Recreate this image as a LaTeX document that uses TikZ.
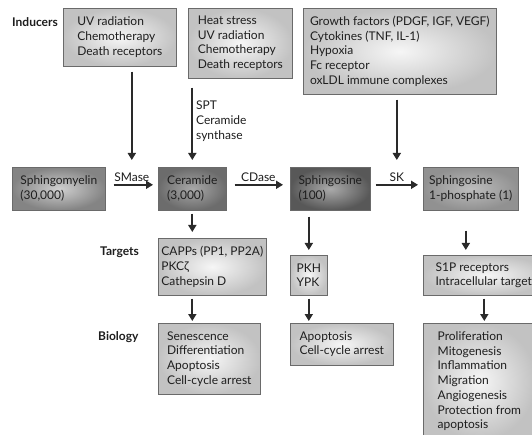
\documentclass[tikz,border=0pt]{standalone}
\usepackage{fontspec}
\setmainfont{Lato}
\usetikzlibrary{arrows.meta,calc}

\definecolor{txt}{HTML}{1E1E1E}
\definecolor{boxline}{HTML}{6A6A6A}
\definecolor{arrline}{HTML}{2A2A2A}
\definecolor{lightin}{HTML}{F6F6F6}
\definecolor{lightout}{HTML}{C2C2C2}
\definecolor{smin}{HTML}{D0D0D0}
\definecolor{smout}{HTML}{848484}
\definecolor{cerin}{HTML}{A8A8A8}
\definecolor{cerout}{HTML}{6C6C6C}
\definecolor{sphin}{HTML}{AAAAAA}
\definecolor{sphout}{HTML}{585858}
\definecolor{sipin}{HTML}{BDBDBD}
\definecolor{sipout}{HTML}{919191}

\tikzset{
	box/.style={draw=boxline, line width=0.6pt, anchor=north west, align=left, inner sep=2pt, text=txt, inner color=lightin, outer color=lightout},
	lipid/.style={box, inner color=#1in, outer color=#1out},
	lbl/.style={anchor=west, inner sep=0pt, text=txt, font=\fontsize{12}{14.7}\selectfont\bfseries},
	enz/.style={above=2pt, inner sep=0pt, text=txt},
	arr/.style={draw=arrline, line width=1.8pt, -{Triangle[length=7pt,width=8pt]}},
}

\begin{document}
\begin{tikzpicture}[x=1pt,y=-1pt,font=\fontsize{12}{14.7}\selectfont]
	\useasboundingbox (0,0) rectangle (532,435);
	\clip (0,0) rectangle (532,435);

	\node[lbl] (ind) at (12,22) {Inducers};
	\node[box,minimum width=113pt,minimum height=58pt] (in1) at (63,8) {UV radiation\\Chemotherapy\\Death receptors};
	\node[box,minimum width=104pt,minimum height=70pt] (in2) at (188,8) {Heat stress\\UV radiation\\Chemotherapy\\Death receptors};
	\node[box,minimum width=193pt,minimum height=86pt] (in3) at (303,8) {Growth factors (PDGF, IGF, VEGF)\\Cytokines (TNF, IL-1)\\Hypoxia\\Fc receptor\\oxLDL immune complexes};
	\node[anchor=north west,inner sep=0pt,align=left,text=txt] (spt) at (196,101) {SPT\\Ceramide\\synthase};

	\node[lipid=sm,minimum width=93pt,minimum height=43pt] (sm) at (12,167) {Sphingomyelin\\(30,000)};
	\node[lipid=cer,minimum width=68pt,minimum height=43pt] (cer) at (158,167) {Ceramide\\(3,000)};
	\node[lipid=sph,minimum width=80pt,minimum height=43pt] (sph) at (290,167) {Sphingosine\\(100)};
	\node[lipid=sip,minimum width=95pt,minimum height=43pt] (s1p) at (423,167) {Sphingosine\\1-phosphate (1)};

	\node[lbl] (tgt) at (100,252) {Targets};
	\node[box,minimum width=108pt,minimum height=57pt] (capps) at (158,238) {CAPPs (PP1, PP2A)\\PKCζ\\Cathepsin D};
	\node[box,minimum width=37pt,minimum height=40pt] (pkh) at (290,255) {PKH\\YPK};
	\node[box,minimum width=126pt,minimum height=40pt] (s1pr) at (423,255) {S1P receptors\\Intracellular targets};

	\node[lbl] (bio) at (98,337) {Biology};
	\node[box,minimum width=102pt,minimum height=71pt] (sen) at (158,323) {Senescence\\Differentiation\\Apoptosis\\Cell-cycle arrest};
	\node[box,minimum width=103pt,minimum height=42pt] (apo) at (290,323) {Apoptosis\\Cell-cycle arrest};
	\node[box,minimum width=112pt,minimum height=116pt] (pro) at (423,323) {Proliferation\\Mitogenesis\\Inflammation\\Migration\\Angiogenesis\\Protection from\\apoptosis};

	\coordinate (smase) at ($(sm.east)!0.5!(cer.west)$);
	\coordinate (sk) at ($(sph.east)!0.5!(s1p.west)$);
	\draw[arr,shorten <=5pt,shorten >=7pt] (in1.south -| smase) -- (smase |- sm.north);
	\draw[arr,shorten <=9pt,shorten >=7pt] (cer |- in2.south) -- (cer.north);
	\draw[arr,shorten <=5pt,shorten >=7pt] (in3.south -| sk) -- (sk |- s1p.north);

	\draw[arr,shorten <=8pt,shorten >=5pt] ([yshift=4pt]sm.east) -- node[enz] (smaselbl) {SMase} ([yshift=4pt]cer.west);
	\draw[arr,shorten <=8pt,shorten >=7pt] ([yshift=4pt]cer.east) -- node[enz] (cdaselbl) {CDase} ([yshift=4pt]sph.west);
	\draw[arr,shorten <=5pt,shorten >=5pt] ([yshift=4pt]sph.east) -- node[enz] (sklbl) {SK} ([yshift=4pt]s1p.west);

	\draw[arr,shorten <=3pt,shorten >=6pt] (cer.south) -- (cer.south |- capps.north);
	\draw[arr,shorten <=6pt,shorten >=5pt] (pkh |- sph.south) -- (pkh.north);
	\draw[arr,shorten <=20pt,shorten >=5pt] ([xshift=-5pt]s1p.south) -- ([xshift=-5pt]s1p.south |- s1pr.north);

	\draw[arr,shorten <=3pt,shorten >=2pt] (cer |- capps.south) -- (cer |- sen.north);
	\draw[arr,shorten <=3pt,shorten >=2pt] (pkh.south) -- (pkh.south |- apo.north);
	\draw[arr,shorten <=3pt,shorten >=2pt] ([xshift=-2pt]s1pr.south) -- ([xshift=-2pt]s1pr.south |- pro.north);
\end{tikzpicture}
\end{document}
